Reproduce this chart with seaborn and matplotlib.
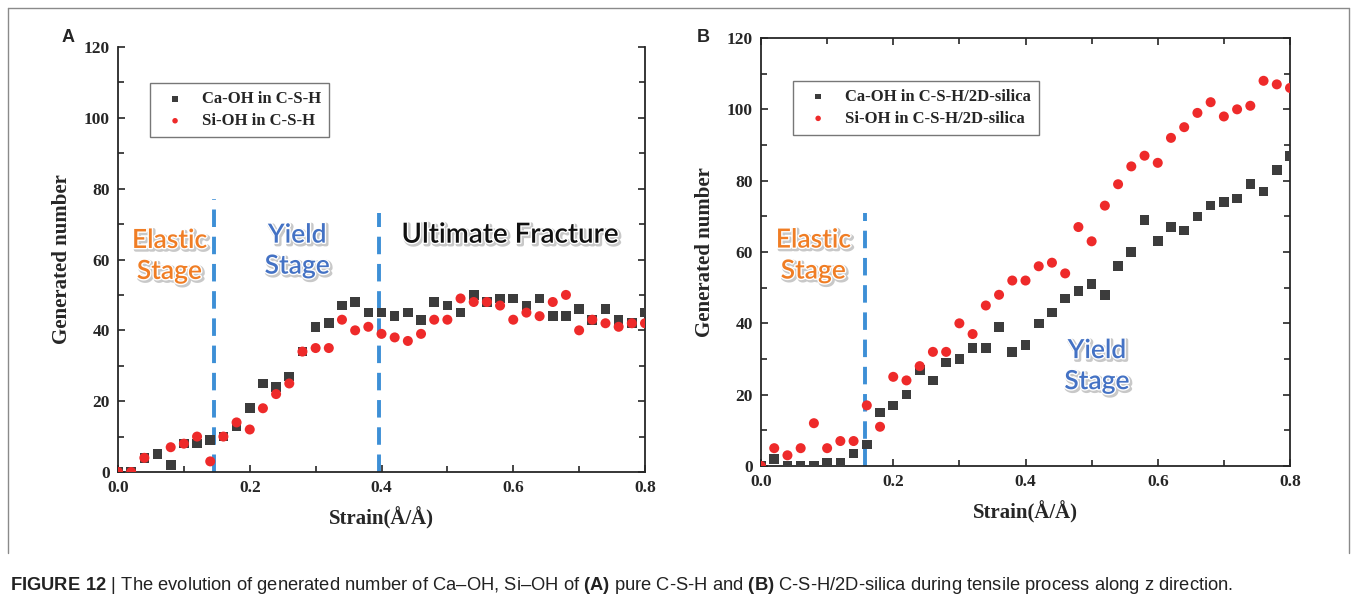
import numpy as np
import pandas as pd
import seaborn as sns
import matplotlib.pyplot as plt
import matplotlib.patheffects as pe
from matplotlib.ticker import MultipleLocator
from matplotlib.lines import Line2D

# strain values (Å/Å), shared by both panels
strain = [0.00, 0.02, 0.04, 0.06, 0.08, 0.10, 0.12, 0.14, 0.16, 0.18,
          0.20, 0.22, 0.24, 0.26, 0.28, 0.30, 0.32, 0.34, 0.36, 0.38,
          0.40, 0.42, 0.44, 0.46, 0.48, 0.50, 0.52, 0.54, 0.56, 0.58,
          0.60, 0.62, 0.64, 0.66, 0.68, 0.70, 0.72, 0.74, 0.76, 0.78, 0.80]

# (A) pure C-S-H
caoh_csh = [0, 0, 4, 5, 2, 8, 8, 9, 10, 13,
            18, 25, 24, 27, 34, 41, 42, 47, 48, 45,
            45, 44, 45, 43, 48, 47, 45, 50, 48, 49,
            49, 47, 49, 44, 44, 46, 43, 46, 43, 42, 45]
sioh_csh = [0, 0, 4, None, 7, 8, 10, 3, 10, 14,
            12, 18, 22, 25, 34, 35, 35, 43, 40, 41,
            39, 38, 37, 39, 43, 43, 49, 48, 48, 47,
            43, 45, 44, 48, 50, 40, 43, 42, 41, 42, 42]

# (B) C-S-H/2D-silica
caoh_silica = [0, 2, 0, 0, 0, 1, 1, 3.5, 6, 15,
               17, 20, 27, 24, 29, 30, 33, 33, 39, 32,
               34, 40, 43, 47, 49, 51, 48, 56, 60, 69,
               63, 67, 66, 70, 73, 74, 75, 79, 77, 83, 87]
sioh_silica = [0, 5, 3, 5, 12, 5, 7, 7, 17, 11,
               25, 24, 28, 32, 32, 40, 37, 45, 48, 52,
               52, 56, 57, 54, 67, 63, 73, 79, 84, 87,
               85, 92, 95, 99, 102, 98, 100, 101, 108, 107, 106]

SQ_COLOR = '#3c3c3c'
RED = '#ee2a2a'
BLUE = '#3d8fd6'
ORANGE = '#f07d24'
STAGE_BLUE = '#4472c4'


def style_axes(ax, top):
    ax.set_xlim(0, 0.8)
    ax.set_ylim(0, 120)
    ax.xaxis.set_major_locator(MultipleLocator(0.2))
    ax.xaxis.set_minor_locator(MultipleLocator(0.1))
    ax.yaxis.set_major_locator(MultipleLocator(20))
    ax.yaxis.set_minor_locator(MultipleLocator(10))
    ax.tick_params(which='both', direction='in', top=top, right=True,
                   width=1.2, labelsize=12.5, pad=6)
    ax.tick_params(which='major', length=5)
    ax.tick_params(which='minor', length=4)
    for side in ['left', 'bottom', 'right']:
        ax.spines[side].set_visible(True)
        ax.spines[side].set_linewidth(1.3)
    ax.spines['top'].set_visible(top)
    ax.spines['top'].set_linewidth(1.3)
    for lab in ax.get_xticklabels() + ax.get_yticklabels():
        lab.set_fontweight('bold')
    ax.set_xlabel('Strain(Å/Å)', fontsize=15, fontweight='bold', labelpad=8)
    ax.set_ylabel('Generated number', fontsize=15, fontweight='bold', labelpad=8)


def stage_text(ax, x, y, s, color, size=19):
    ax.text(x, y, s, color=color, fontsize=size, family=['Lato', 'DejaVu Sans'],
            fontweight='semibold', ha='center', va='center', linespacing=1.3, zorder=5,
            path_effects=[pe.Stroke(linewidth=3, foreground='#c8c8c8', offset=(1.2, -1.2)),
                          pe.Stroke(linewidth=2, foreground='white'),
                          pe.Normal()])


def panel(ax, ca, si, label_ca, label_si):
    df_ca = pd.DataFrame({'strain': strain, 'count': ca}).dropna()
    df_si = pd.DataFrame({'strain': strain, 'count': si}).dropna()
    sns.scatterplot(data=df_ca, x='strain', y='count', marker='s', color=SQ_COLOR,
                    s=48, edgecolor='none', label=label_ca, ax=ax, zorder=3)
    sns.scatterplot(data=df_si, x='strain', y='count', marker='o', color=RED,
                    s=52, edgecolor='none', label=label_si, ax=ax, zorder=4)


def main():
    sns.set_style('ticks')
    plt.rcParams['font.family'] = ['Liberation Serif', 'DejaVu Serif']
    plt.rcParams['mathtext.fontset'] = 'custom'
    plt.rcParams['mathtext.bf'] = 'Liberation Sans:bold'
    plt.rcParams['mathtext.rm'] = 'Liberation Sans'

    fig = plt.figure(figsize=(13.57, 6.04), dpi=100)
    W, H = 1357, 604
    ax_a = fig.add_axes([118 / W, 1 - 472 / H, 527 / W, 425 / H])
    ax_b = fig.add_axes([761 / W, 1 - 466 / H, 529 / W, 428 / H])

    dash = (0, (4.5, 2.5))

    # (A)
    panel(ax_a, caoh_csh, sioh_csh, 'Ca-OH in C-S-H', 'Si-OH in C-S-H')
    style_axes(ax_a, top=False)
    ax_a.plot([0.146, 0.146], [0, 77], color=BLUE, lw=2.8, linestyle=dash, zorder=2)
    ax_a.plot([0.396, 0.396], [0, 73], color=BLUE, lw=2.8, linestyle=dash, zorder=2)
    stage_text(ax_a, 0.078, 61, 'Elastic\nStage', ORANGE)
    stage_text(ax_a, 0.272, 62.5, 'Yield\nStage', STAGE_BLUE)
    stage_text(ax_a, 0.595, 67, 'Ultimate Fracture', '#111111', size=20)
    ax_a.legend(loc='upper left', bbox_to_anchor=(0.045, 0.935), frameon=True,
                fancybox=False, edgecolor='#777777', framealpha=1,
                prop={'weight': 'bold', 'size': 12}, markerscale=0.55,
                handletextpad=0.6, borderpad=0.5, labelspacing=0.35)

    # (B)
    panel(ax_b, caoh_silica, sioh_silica, 'Ca-OH in C-S-H/2D-silica', 'Si-OH in C-S-H/2D-silica')
    style_axes(ax_b, top=True)
    ax_b.plot([0.157, 0.157], [0, 71], color=BLUE, lw=2.8, linestyle=dash, zorder=2)
    stage_text(ax_b, 0.079, 59, 'Elastic\nStage', ORANGE)
    stage_text(ax_b, 0.508, 28, 'Yield\nStage', STAGE_BLUE)
    ax_b.legend(loc='upper left', bbox_to_anchor=(0.045, 0.92), frameon=True,
                fancybox=False, edgecolor='#777777', framealpha=1,
                prop={'weight': 'bold', 'size': 12}, markerscale=0.55,
                handletextpad=0.6, borderpad=0.5, labelspacing=0.35)

    # panel letters
    fig.text(62 / W, 1 - 38 / H, 'A', fontsize=13, fontweight='bold',
             family='Liberation Sans', va='center')
    fig.text(697 / W, 1 - 38 / H, 'B', fontsize=13, fontweight='bold',
             family='Liberation Sans', va='center')

    # figure frame
    fr = dict(color='#8a8a8a', lw=1.0, transform=fig.transFigure)
    fig.add_artist(Line2D([8 / W, 8 / W], [1 - 553 / H, 1 - 8 / H], **fr))
    fig.add_artist(Line2D([8 / W, 1349 / W], [1 - 8 / H, 1 - 8 / H], **fr))
    fig.add_artist(Line2D([1349 / W, 1349 / W], [1 - 553 / H, 1 - 8 / H], **fr))

    caption = (r'$\bf{FIGURE\ 12}$ | The evolution of generated number of Ca–OH, Si–OH of '
               r'$\bf{(A)}$ pure C-S-H and $\bf{(B)}$ C-S-H/2D-silica during tensile process '
               r'along z direction.')
    fig.text(10 / W, 1 - 590 / H, caption, fontsize=13.2, family='Liberation Sans',
             color='#222222', va='baseline', ha='left')

    fig.savefig('out.png', dpi=100)


if __name__ == '__main__':
    main()
